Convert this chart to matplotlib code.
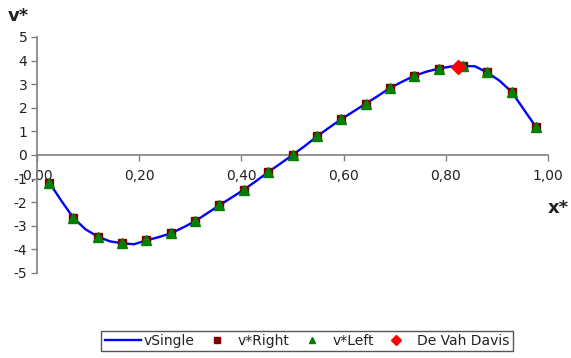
import numpy as np
import matplotlib
matplotlib.use("Agg")
import matplotlib.pyplot as plt
import matplotlib.ticker as ticker

# data
xCell = [0.024, 0.071, 0.119, 0.167, 0.214, 0.262, 0.310, 0.357, 0.405, 0.452, 0.500,
         0.548, 0.595, 0.643, 0.690, 0.738, 0.786, 0.833, 0.881, 0.929, 0.976]
vRight = [-1.17, -2.66, -3.46, -3.72, -3.60, -3.32, -2.80, -2.13, -1.47, -0.73, 0.00,
          0.79, 1.51, 2.17, 2.83, 3.35, 3.66, 3.77, 3.50, 2.67, 1.20]
vLeft = [-1.17, -2.66, -3.46, -3.72, -3.60, -3.32, -2.80, -2.13, -1.47, -0.73, 0.00,
         0.79, 1.51, 2.17, 2.83, 3.35, 3.66, 3.77, 3.50, 2.67, 1.20]

xSingle = [0.024, 0.048, 0.071, 0.095, 0.119, 0.143, 0.167, 0.190, 0.214, 0.238, 0.262,
           0.286, 0.310, 0.333, 0.357, 0.381, 0.405, 0.429, 0.452, 0.476, 0.500,
           0.524, 0.548, 0.571, 0.595, 0.619, 0.643, 0.667, 0.690, 0.714, 0.738,
           0.762, 0.786, 0.810, 0.833, 0.857, 0.881, 0.905, 0.929, 0.952, 0.976]
vSingle = [-1.17, -1.95, -2.66, -3.15, -3.46, -3.66, -3.74, -3.78, -3.62, -3.48, -3.32,
           -3.07, -2.80, -2.47, -2.13, -1.80, -1.47, -1.10, -0.73, -0.37, 0.00,
           0.38, 0.79, 1.15, 1.51, 1.84, 2.17, 2.50, 2.83, 3.10, 3.35,
           3.53, 3.66, 3.75, 3.77, 3.76, 3.50, 3.15, 2.67, 1.95, 1.20]

xDavis = [0.823]
vDavis = [3.73]

xTicks = [0.0, 0.2, 0.4, 0.6, 0.8, 1.0]
yTicks = [-5, -4, -3, -2, -1, 0, 1, 2, 3, 4, 5]

fig = plt.figure(figsize=(5.71, 3.58), dpi=100)
ax = fig.add_axes([37/571, 85/358, 511/571, 236/358])

axisColor = '#808080'
textColor = '#222222'

hLine, = ax.plot(xSingle, vSingle, '-', color='#0000FF', linewidth=1.7, label='vSingle', zorder=3)
hRight, = ax.plot(xCell, vRight, 's', color='#800000', markersize=6, linestyle='none',
                  label='v*Right', zorder=4)
hLeft, = ax.plot(xCell, vLeft, '^', color='#008000', markersize=6.5, linestyle='none',
                 label='v*Left', zorder=5)
hDavis, = ax.plot(xDavis, vDavis, 'D', color='#FF0000', markersize=7, linestyle='none',
                  label='De Vah Davis', zorder=6)

ax.set_xlim(0, 1)
ax.set_ylim(-5, 5)
ax.set_xticks(xTicks)
ax.set_yticks(yTicks)

# axes crossing at the origin, like Excel
ax.spines['left'].set_position(('data', 0))
ax.spines['bottom'].set_position(('data', 0))
ax.spines['right'].set_visible(False)
ax.spines['top'].set_visible(False)
for s in ['left', 'bottom']:
    ax.spines[s].set_color(axisColor)
    ax.spines[s].set_linewidth(1.2)

ax.xaxis.set_major_formatter(ticker.FuncFormatter(lambda v, p: ('%.2f' % v).replace('.', ',')))
ax.yaxis.set_major_formatter(ticker.FuncFormatter(lambda v, p: '%d' % v))
ax.tick_params(axis='both', direction='out', length=4, width=1.0, color=axisColor,
               labelsize=10, labelcolor=textColor)
ax.tick_params(axis='x', pad=6)
ax.tick_params(axis='y', pad=3)
ax.patch.set_visible(False)

fig.text(8/571, 1 - 16/358, 'v*', fontsize=13, fontweight='bold', color=textColor,
         ha='left', va='center')
fig.text(558/571, 1 - 208/358, 'x*', fontsize=13, fontweight='bold', color=textColor,
         ha='center', va='center')

leg = fig.legend(handles=[hLine, hRight, hLeft, hDavis], loc='center',
                 bbox_to_anchor=(307/571, 1 - 341/358), ncol=4, fontsize=10,
                 frameon=True, fancybox=False, framealpha=1.0, borderpad=0.25,
                 handlelength=2.6, handletextpad=0.2, columnspacing=0.3,
                 borderaxespad=0.0, markerscale=0.7)
leg.get_frame().set_edgecolor('#555555')
leg.get_frame().set_linewidth(1.0)
for t in leg.get_texts():
    t.set_color(textColor)

fig.savefig('out.png', dpi=100)
